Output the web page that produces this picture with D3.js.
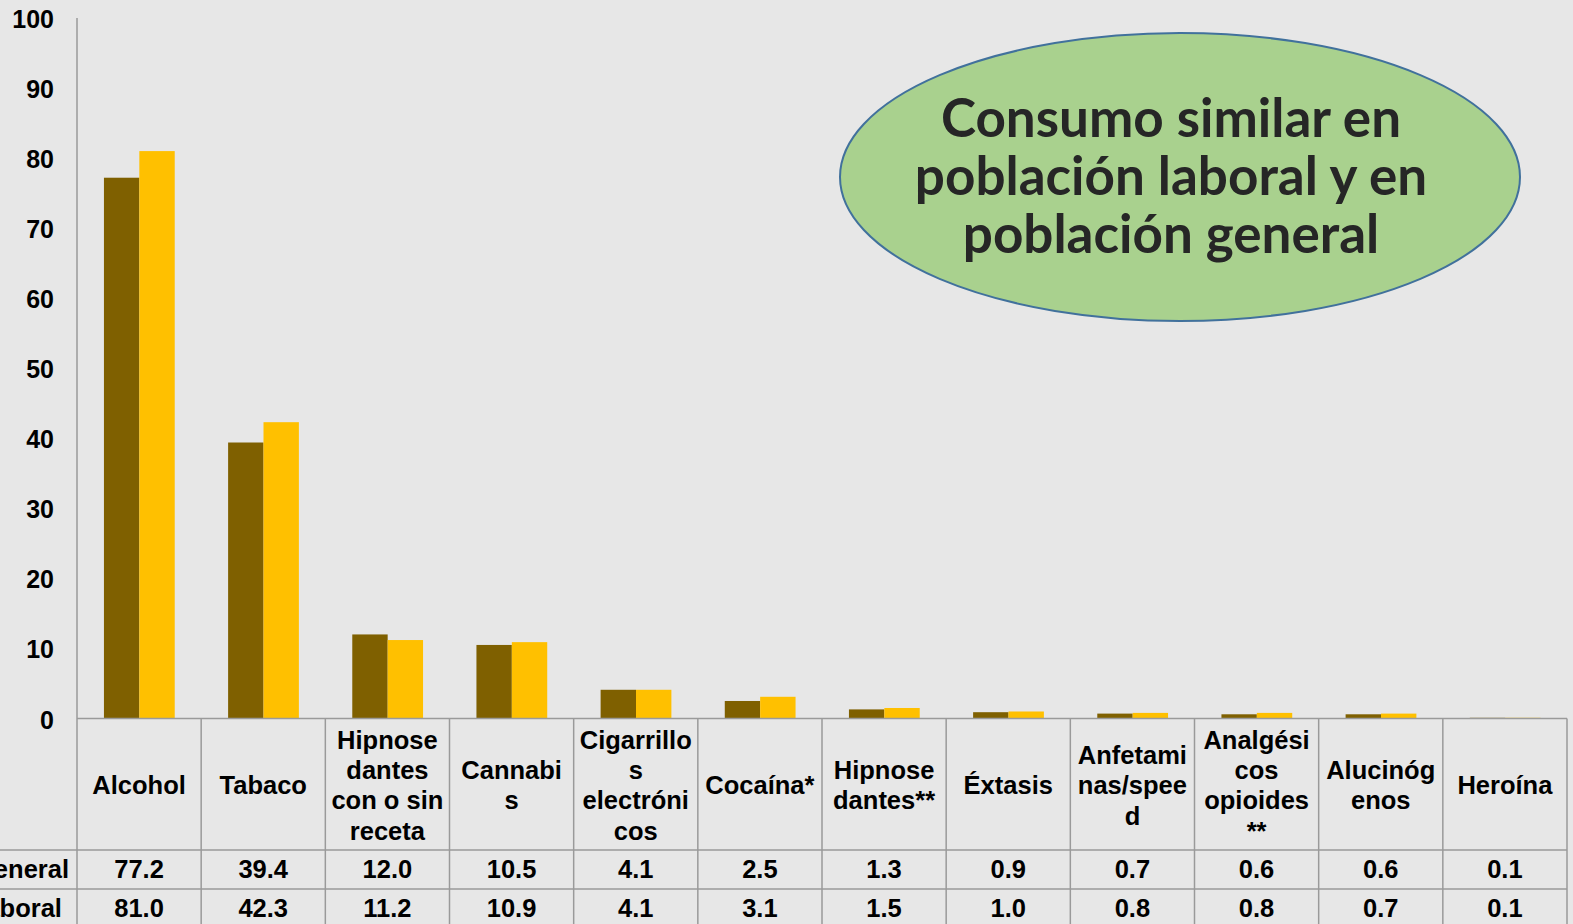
<!DOCTYPE html>
<html>
<head>
<meta charset="utf-8">
<script src="https://cdn.jsdelivr.net/npm/d3@7"></script>
<style>
  body { margin: 0; background: #e7e7e7; }
  svg { display: block; }
</style>
</head>
<body>
<svg width="1573" height="924"></svg>
<script>
var categories = ["Alcohol", "Tabaco", "Hipnose dantes con o sin receta", "Cannabis", "Cigarrillos electrónicos",
                  "Cocaína*", "Hipnose dantes**", "Éxtasis", "Anfetaminas/speed", "Analgésicos opioides **",
                  "Alucinógenos", "Heroína"];
// category labels broken the way the table cells wrap them
var catLines = [["Alcohol"], ["Tabaco"], ["Hipnose", "dantes", "con o sin", "receta"], ["Cannabi", "s"],
                ["Cigarrillo", "s", "electróni", "cos"], ["Cocaína*"], ["Hipnose", "dantes**"], ["Éxtasis"],
                ["Anfetami", "nas/spee", "d"], ["Analgési", "cos", "opioides", "**"], ["Alucinóg", "enos"], ["Heroína"]];
var seriesNames = ["Población general", "Población laboral"];
var general = [77.2, 39.4, 12.0, 10.5, 4.1, 2.5, 1.3, 0.9, 0.7, 0.6, 0.6, 0.1];
var laboral = [81.0, 42.3, 11.2, 10.9, 4.1, 3.1, 1.5, 1.0, 0.8, 0.8, 0.7, 0.1];
var yTicks = [0, 10, 20, 30, 40, 50, 60, 70, 80, 90, 100];
var noteLines = ["Consumo similar en", "población laboral y en", "población general"];

var svg = d3.select("svg"),
    plotLeft = 77, plotRight = 1567,
    plotTop = 18, plotBottom = 718.5;

var colors = ["#7f6000", "#ffc000"];
var series = [general, laboral];

var x0 = d3.scaleBand().domain(categories).range([plotLeft, plotRight]).padding(0);
var x1 = d3.scaleBand().domain(seriesNames)
           .range([x0.bandwidth() * 0.217, x0.bandwidth() * 0.787]);
var y = d3.scaleLinear().domain([0, 100]).range([plotBottom, plotTop]);

// y axis labels
svg.append("g")
   .attr("transform", "translate(" + plotLeft + ",1.5)")
   .call(d3.axisLeft(y).tickValues(yTicks).tickSize(0).tickPadding(23))
   .call(g => g.select(".domain").remove())
   .selectAll("text")
   .attr("font-family", "'Liberation Sans', Arial, sans-serif")
   .attr("font-weight", "bold")
   .attr("font-size", "25px")
   .attr("fill", "#000");

// bars
var groups = svg.append("g").selectAll("g")
   .data(categories)
   .enter().append("g")
   .attr("transform", function(d) { return "translate(" + x0(d) + ",0)"; });

groups.selectAll("rect")
   .data(function(d, i) { return seriesNames.map(function(s, j) { return { s: s, v: series[j][i] }; }); })
   .enter().append("rect")
   .attr("x", function(d) { return x1(d.s); })
   .attr("y", function(d) { return y(d.v); })
   .attr("width", x1.bandwidth())
   .attr("height", function(d) { return plotBottom - y(d.v); })
   .attr("fill", function(d, j) { return colors[j]; });

// data table
var rowCat = 850, rowGen = 889, tableEnd = 930;
var lineCol = "#9a9a9a";
var t = svg.append("g").attr("stroke", lineCol).attr("stroke-width", 1.5);

t.append("line").attr("x1", plotLeft).attr("x2", plotLeft).attr("y1", plotTop).attr("y2", tableEnd);
t.append("line").attr("x1", plotLeft).attr("x2", plotRight).attr("y1", plotBottom).attr("y2", plotBottom);
t.append("line").attr("x1", 0).attr("x2", plotRight).attr("y1", rowCat).attr("y2", rowCat);
t.append("line").attr("x1", 0).attr("x2", plotRight).attr("y1", rowGen).attr("y2", rowGen);
t.selectAll(".vcol")
 .data(categories)
 .enter().append("line")
 .attr("class", "vcol")
 .attr("x1", function(d) { return x0(d) + x0.bandwidth(); })
 .attr("x2", function(d) { return x0(d) + x0.bandwidth(); })
 .attr("y1", plotBottom).attr("y2", tableEnd);

var txt = svg.append("g")
   .attr("font-family", "'Liberation Sans', Arial, sans-serif")
   .attr("font-weight", "bold")
   .attr("font-size", "25.5px")
   .attr("fill", "#000")
   .attr("text-anchor", "middle");

txt.selectAll(".cat")
   .data(categories)
   .enter().append("text")
   .attr("class", "cat")
   .attr("x", function(d) { return x0(d) + x0.bandwidth() / 2; })
   .attr("y", function(d, i) { return (plotBottom + rowCat) / 2 + 1 - (catLines[i].length - 1) * 15.2; })
   .each(function(d, i) {
       d3.select(this).selectAll("tspan")
         .data(catLines[i])
         .enter().append("tspan")
         .attr("x", x0(d) + x0.bandwidth() / 2)
         .attr("dy", function(l, k) { return k === 0 ? "0.35em" : "30.4px"; })
         .text(function(l) { return l; });
   });

var rowY = [(rowCat + rowGen) / 2, rowGen + 19];

txt.selectAll(".vg")
   .data(general)
   .enter().append("text")
   .attr("class", "vg")
   .attr("x", function(d, i) { return x0(categories[i]) + x0.bandwidth() / 2; })
   .attr("y", rowY[0])
   .attr("dy", "0.35em")
   .text(function(d) { return d.toFixed(1); });

txt.selectAll(".vl")
   .data(laboral)
   .enter().append("text")
   .attr("class", "vl")
   .attr("x", function(d, i) { return x0(categories[i]) + x0.bandwidth() / 2; })
   .attr("y", rowY[1])
   .attr("dy", "0.35em")
   .text(function(d) { return d.toFixed(1); });

// row names are left aligned in a column that runs off the left edge
var names = txt.selectAll(".rowname")
   .data(seriesNames)
   .enter().append("text")
   .attr("class", "rowname")
   .attr("text-anchor", "start")
   .attr("y", function(d, j) { return rowY[j]; })
   .attr("dy", "0.35em")
   .text(function(d) { return d; });
var nameStart = 69 - names.nodes()[0].getComputedTextLength();
names.attr("x", nameStart);

// callout
var note = svg.append("g");
note.append("ellipse")
    .attr("cx", 1180).attr("cy", 177)
    .attr("rx", 340).attr("ry", 144)
    .attr("fill", "#a9d18e")
    .attr("stroke", "#41719c")
    .attr("stroke-width", 2);

note.selectAll("text")
    .data(noteLines)
    .enter().append("text")
    .attr("x", 1171)
    .attr("y", function(d, i) { return 137 + i * 58; })
    .attr("text-anchor", "middle")
    .attr("font-family", "Lato, 'Noto Sans', sans-serif")
    .attr("font-weight", "bold")
    .attr("font-size", "53px")
    .attr("fill", "#262626")
    .text(function(d) { return d; });
</script>
</body>
</html>
